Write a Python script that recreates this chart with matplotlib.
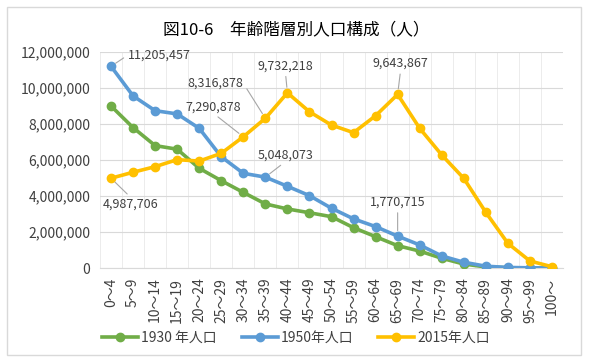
import matplotlib
matplotlib.use("Agg")
import matplotlib.pyplot as plt
from matplotlib.lines import Line2D
from matplotlib.patches import Rectangle
import numpy as np

plt.rcParams['font.family'] = ['Noto Sans CJK JP', 'DejaVu Sans']

# age groups and population per group
ages = ['0～4', '5～9', '10～14', '15～19', '20～24', '25～29', '30～34', '35～39',
        '40～44', '45～49', '50～54', '55～59', '60～64', '65～69', '70～74', '75～79',
        '80～84', '85～89', '90～94', '95～99', '100～']
pop_1930 = [9000000, 7800000, 6800000, 6600000, 5540000, 4850000, 4200000, 3560000,
            3280000, 3070000, 2850000, 2240000, 1740000, 1240000, 940000, 540000,
            220000, 60000, 15000, 3000, 500]
pop_1950 = [11205457, 9560000, 8740000, 8560000, 7760000, 6180000, 5260000, 5048073,
            4540000, 4020000, 3320000, 2730000, 2300000, 1770715, 1280000, 670000,
            320000, 100000, 30000, 10000, 1000]
pop_2015 = [4987706, 5320000, 5630000, 6020000, 5940000, 6370000, 7290878, 8316878,
            9732218, 8680000, 7940000, 7520000, 8460000, 9643867, 7760000, 6280000,
            4980000, 3090000, 1370000, 390000, 70000]
series_names = ['1930 年人口', '1950年人口', '2015年人口']
colors = ['#70AD47', '#5B9BD5', '#FFC000']

fig = plt.figure(figsize=(5.92, 3.63), dpi=100)
fig.patches.append(Rectangle((7 / 592, 8 / 363), 574 / 592, 348 / 363,
                             transform=fig.transFigure, fc='white', ec='#d9d9d9',
                             lw=1, zorder=-1))
ax = fig.add_axes([100 / 592, 1 - 268 / 363, 463 / 592, 216 / 363])
ax.set_zorder(1)
ax.patch.set_alpha(0)

x = np.arange(len(ages))
for vals, c in zip([pop_1930, pop_1950, pop_2015], colors):
    ax.plot(x, vals, color=c, lw=2.6, marker='o', ms=6, zorder=3)

ax.set_xlim(-0.5, len(ages) - 0.5)
ax.set_ylim(0, 12000000)
ax.set_yticks(np.arange(0, 12000001, 2000000))
ax.set_yticklabels(['{:,}'.format(v) for v in range(0, 12000001, 2000000)])
ax.set_xticks(x)
ax.set_xticklabels(ages, rotation=90)
ax.tick_params(length=0, labelsize=10, colors='#404040')
ax.tick_params(axis='y', pad=7)
ax.tick_params(axis='x', pad=7)
ax.set_xticks(np.arange(-0.5, len(ages), 0.5), minor=True)
ax.tick_params(which='minor', length=0)
ax.grid(axis='y', color='#d9d9d9', lw=0.8)
ax.grid(axis='x', which='minor', color='#ececec', lw=0.7)
ax.set_axisbelow(True)
for s in ['top', 'right', 'left']:
    ax.spines[s].set_visible(False)
ax.spines['bottom'].set_color('#d9d9d9')

# data labels: (series, index, offset in pixels, relpos of leader)
labels = [
    (pop_1950, 0, (48, 11), (0, 0.5)),
    (pop_2015, 0, (20, -26), (0.5, 1)),
    (pop_2015, 6, (-30, 30), (0.5, 0)),
    (pop_2015, 7, (-50, 35), (1, 0.5)),
    (pop_2015, 8, (-2, 27), (0.5, 0)),
    (pop_1950, 7, (20, 22), (0.5, 0)),
    (pop_2015, 13, (3, 31), (0.5, 0)),
    (pop_1950, 13, (0, 34), (0.5, 0)),
]
for vals, i, off, rp in labels:
    ax.annotate('{:,}'.format(vals[i]), (i, vals[i]), xytext=off, textcoords='offset pixels',
                ha='center', va='center', fontsize=9, color='#404040', zorder=5,
                arrowprops=dict(arrowstyle='-', color='#a6a6a6', lw=0.8, relpos=rp,
                                shrinkA=1, shrinkB=4))

fig.text(0.5, 1 - 30 / 363, '図10-6　年齢階層別人口構成（人）', ha='center', va='center',
         fontsize=12, color='#000000')

handles = [Line2D([], [], color=c, lw=2.6, marker='o', ms=6) for c in colors]
fig.legend(handles, series_names, loc='center', bbox_to_anchor=(0.5, 1 - 338 / 363),
           ncol=3, frameon=False, fontsize=10, handlelength=2.6, columnspacing=1.8,
           handletextpad=0.2, labelcolor='#404040')

fig.savefig('out.png', dpi=100)
